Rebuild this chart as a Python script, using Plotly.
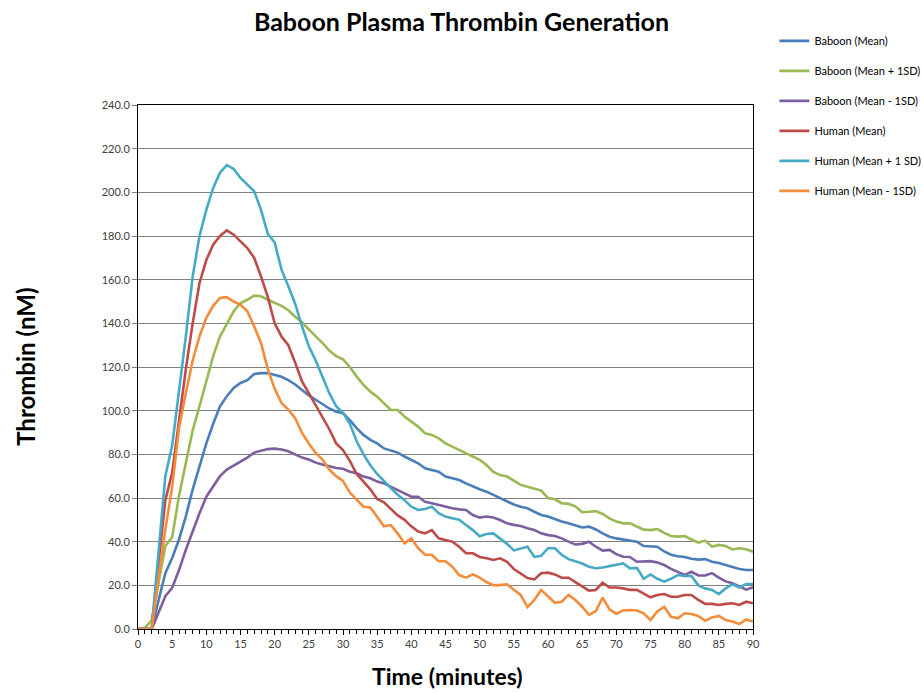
import plotly.graph_objects as go

minutes = list(range(0, 91))

baboon_mean = [0,0,0,13,25.6,32.5,41,51.6,63.8,74.5,
    85,94,102,106.6,110.4,112.7,114,116.8,117.2,117.2,
    116.5,115.5,114,112,109.5,107,105,103,101,99.5,
    98.8,95.7,92,88.9,86.6,85,82.7,81.7,80.8,79,
    77.4,75.9,73.6,72.8,72,69.8,69,68.2,66.7,65.2,
    64,62.9,61.4,59.8,58.5,57,56,55.3,53.7,52.2,
    51.5,50.2,49.2,48.4,47.4,46.5,46.9,45.6,43.8,42.3,
    41.5,41,40.5,40,38,37.7,37.7,35.5,34,33.3,
    33,32.2,31.8,32,30.8,30.2,29.3,28.5,27.5,27,27]

baboon_plus = [0,0.5,4,21,38,42,61,76,91,102,
    113.4,125,134,140,145.5,149.3,150.8,152.7,152.4,150.8,
    149.5,148,146,143,140.5,137,134,131,127.5,125,
    123.5,120,115.6,111.8,108.7,106.4,103.4,100.3,100.3,97.3,
    95,92.7,89.6,88.9,87.3,85,83.5,82,80.5,79,
    77.5,75.1,72,70.5,69.8,68,66,65.2,64.4,63.4,
    60,59.4,57.6,57.3,56.2,53.5,53.7,54,52.7,50.7,
    49.2,48.4,48.4,47,45.5,45.3,45.8,44,42.6,42.3,
    42.6,41,39.6,40.5,37.7,38.5,38,36.5,37,36.5,35.4]

baboon_minus = [0,0,0,7.5,15,18.8,27,36.3,45,53,
    60.6,65.3,70,73,74.8,76.5,78.5,80.8,81.5,82.4,
    82.6,82.2,81.4,79.8,78.5,77.6,76.2,75.3,74.5,73.7,
    73.4,72,71.3,69.8,69,67.5,66.7,65.2,63.7,62.1,
    60.6,60.6,58.3,57.6,56.8,56,55.3,54.8,54.5,52.2,
    51,51.5,51.1,49.9,48.4,47.7,47.2,46.1,45.3,43.8,
    43,42.6,41.5,40,38.7,39,40,37.7,35.9,36.2,
    34.3,33.1,33,30.8,30.8,31.1,30.5,29.3,27.5,26,
    24.8,26.2,24.5,24.5,25.6,23.5,21.8,21,19.5,18,19.1]

human_mean = [0,0,0,30,59,71.5,96,119,140,158.5,
    169,176,180,182.6,180.6,177.6,174.5,170,161.5,152,
    140,134,130,122,113.4,108,102.7,97.4,91.5,85,
    82,77,71,67.5,64,59.5,58,55,52,50,
    47,44.6,43.8,45.3,41.5,40.8,40,37.7,34.7,34.7,
    33,32.4,31.6,32.4,30.8,27.5,25.5,23.3,22.7,25.5,
    25.8,25,23.5,23.5,21.5,19.5,17.6,17.9,21.2,19,
    19,18.6,17.9,17.9,16.3,14.5,15.6,16,14.8,14.8,
    15.6,15.6,13.3,11.5,11.5,11,11.5,11.8,11,12.5,11.8]

human_plus = [0,0,0,35,70,84,108,134,161.5,180,
    192,202,209,212.5,210.7,206.6,203.5,200.5,192,181,
    177,164.6,157,149,138.6,129.5,123,115.7,108,102,
    99,94,86,80,75,71,67.5,64.5,61.5,59,
    56,54.5,55,56,53,51.5,50.7,50,47.6,45.3,
    42.5,43.5,43.8,41.5,39,36,37,37.7,33,33.5,
    37,37,34,32,31,30,28.5,27.8,28.2,28.8,
    29.3,30,27.8,28,23,25,23,21.7,23,24.7,
    24.3,24.3,20,18.6,17.9,16,18.6,20.5,19,20.6,20.6]

human_minus = [0,0,0,23,45.5,65,92,108,123,134,
    142.5,148,151.6,152,150,148.5,145.5,138.6,131,119,
    110,103.5,100.5,96.6,89.8,85,80.6,77.6,73,70,
    67.8,62.5,59,56,55.7,51.5,47,47.6,43.8,39.2,
    41.5,37,34,34,31,31,28.5,24.7,23.5,25,
    23.5,21.5,20.1,20.1,20.5,18,15.6,10,13.3,17.9,
    15,12,12.5,15.6,13.3,10.2,6.5,8.2,14.4,9,
    7,8.5,8.7,8.5,7.2,4.1,8,10.2,5.6,4.9,
    7.2,6.9,6,3.8,5.3,6,4.1,3.4,2.3,4.4,3.4]

series_names = ["Baboon (Mean)", "Baboon (Mean + 1SD)", "Baboon (Mean - 1SD)",
                "Human (Mean)", "Human (Mean + 1 SD)", "Human (Mean - 1SD)"]
series_values = [baboon_mean, baboon_plus, baboon_minus, human_mean, human_plus, human_minus]
series_colors = ["#4A7EBB", "#98B954", "#7D5FA0", "#BE4B48", "#46AAC5", "#F38C3B"]

tick_font = "Lato, sans-serif"
title_font = "Lato, Carlito, Calibri, sans-serif"

fig = go.Figure()
for name, vals, col in zip(series_names, series_values, series_colors):
    fig.add_trace(go.Scatter(x=minutes, y=vals, mode="lines", name=name,
                             legendgroup=name,
                             line=dict(color=col, width=2.6)))

fig.update_layout(
    width=923, height=693,
    margin=dict(l=138, r=170, t=105, b=64),
    paper_bgcolor="white", plot_bgcolor="white",
    title=dict(text="Baboon Plasma Thrombin Generation", x=0.5, xref="container",
               xanchor="center", y=0.968, yanchor="middle",
               font=dict(family=title_font, size=25, color="black", weight="bold")),
    legend=dict(x=0.839, y=0.962, xref="container", yref="container",
                xanchor="left", yanchor="top",
                traceorder="grouped", tracegroupgap=11, itemwidth=30,
                font=dict(family=tick_font, size=11, color="black"),
                bgcolor="rgba(0,0,0,0)"),
    xaxis=dict(range=[0, 90], tick0=0, dtick=5, showgrid=False, zeroline=False,
               showline=True, linecolor="black", linewidth=1, mirror=True,
               ticks="outside", ticklen=5, tickcolor="black",
               minor=dict(dtick=1, ticks="outside", ticklen=4, tickcolor="black", showgrid=False),
               tickfont=dict(family=tick_font, size=11, color="#404040")),
    yaxis=dict(range=[0, 240], tick0=0, dtick=20, tickformat=".1f",
               showgrid=True, gridcolor="#808080", gridwidth=1, zeroline=False,
               showline=True, linecolor="black", linewidth=1, mirror=True,
               ticks="outside", ticklen=5, tickcolor="#808080",
               tickfont=dict(family=tick_font, size=11, color="#404040")),
    annotations=[
        dict(text="Thrombin (nM)", x=-0.184, y=0.5, xref="paper", yref="paper",
             textangle=-90, showarrow=False, xanchor="center", yanchor="middle",
             font=dict(family=title_font, size=24, color="black", weight="bold")),
        dict(text="Time (minutes)", x=0.504, y=-0.0895, xref="paper", yref="paper",
             showarrow=False, xanchor="center", yanchor="middle",
             font=dict(family=title_font, size=23, color="black", weight="bold")),
    ],
)

fig.write_html("out.html", config={"displayModeBar": False},
               post_script="document.body.style.margin='0';document.body.style.overflow='hidden';")
